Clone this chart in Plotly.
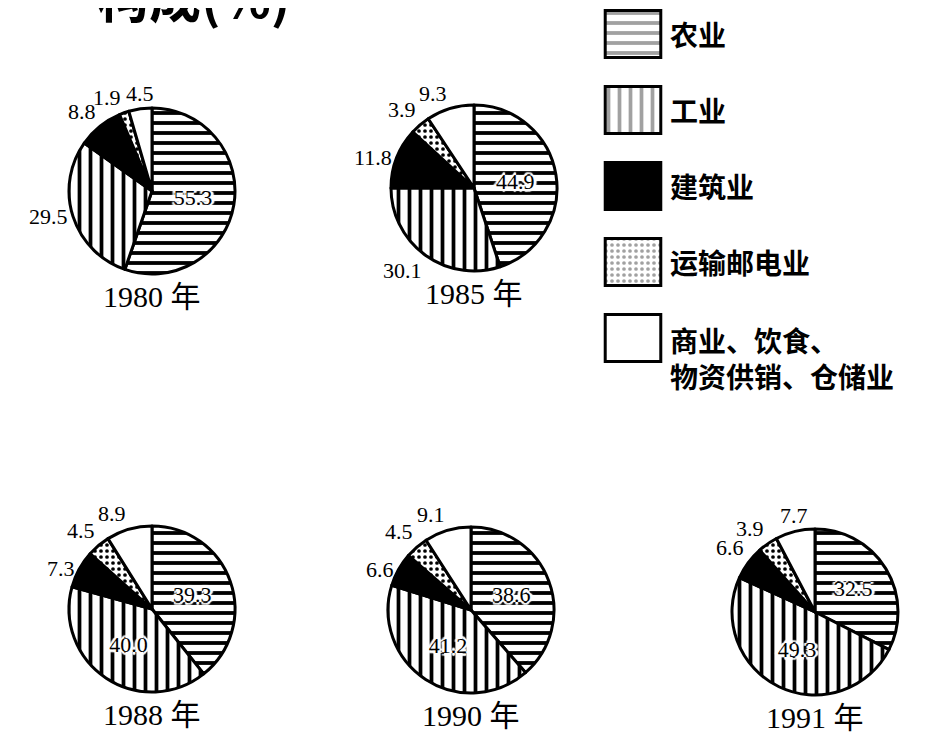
import math
import plotly.graph_objects as go

# sectors, in the order the slices run clockwise from 12 o'clock
sectors = ["农业", "工业", "建筑业", "运输邮电业", "商业、饮食、物资供销、仓储业"]
legend_text = ["农业", "工业", "建筑业", "运输邮电业", "商业、饮食、<br>物资供销、仓储业"]

years = ["1980", "1985", "1988", "1990", "1991"]
share_1980 = [55.3, 29.5, 8.8, 1.9, 4.5]
share_1985 = [44.9, 30.1, 11.8, 3.9, 9.3]
share_1988 = [39.3, 40.0, 7.3, 4.5, 8.9]
share_1990 = [38.6, 41.2, 6.6, 4.5, 9.1]
share_1991 = [32.5, 49.3, 6.6, 3.9, 7.7]
shares = [share_1980, share_1985, share_1988, share_1990, share_1991]

# which labels sit inside the slice (the rest go outside, next to the slice)
label_pos = [
    ["inside", "none", "none", "none", "none"],
    ["inside", "none", "none", "none", "none"],
    ["inside", "inside", "none", "none", "none"],
    ["inside", "inside", "none", "none", "none"],
    ["inside", "inside", "none", "none", "none"],
]

# page has an 8px body margin, so the figure itself is 8px smaller
OFF = 8
W, H = 931 - OFF, 739 - OFF
R = 83
centers = [(152, 191), (474, 188), (152, 609), (471, 610), (815, 612)]


def px(x):
    return (x - OFF) / W


def py(y):
    return 1 - (y - OFF) / H


num_font = "Liberation Serif, Noto Sans CJK SC"
cjk_font = "Noto Sans CJK SC"

fill = ["white", "white", "black", "white", "white"]
pattern = dict(
    shape=["-", "|", "", ".", ""],
    fgcolor="black",
    bgcolor=fill,
    size=[10, 11, 8, 6, 8],
    solidity=[0.38, 0.34, 0.3, 0.3, 0.3],
)
halo = ("white 2px 0 0, white -2px 0 0, white 0 2px 0, white 0 -2px 0, "
        "white 3px 0 1px, white -3px 0 1px, white 0 3px 1px, white 0 -3px 1px")

fig = go.Figure()

for year, vals, pos, (cx, cy) in zip(years, shares, label_pos, centers):
    fig.add_trace(go.Pie(
        labels=sectors,
        values=vals,
        sort=False,
        direction="clockwise",
        rotation=0,
        marker=dict(colors=fill, pattern=pattern, line=dict(color="black", width=3)),
        texttemplate="%{value:.1f}",
        textposition=pos,
        insidetextorientation="horizontal",
        insidetextfont=dict(family=num_font, size=22, color="black", shadow=halo),
        domain=dict(x=[px(cx - R), px(cx + R)], y=[py(cy + R), py(cy - R)]),
        showlegend=False,
        hoverinfo="label+value",
    ))
    # outside labels, placed at each small slice's middle angle
    total = sum(vals)
    cum = 0
    for v, p in zip(vals, pos):
        theta = 2 * math.pi * (cum + v / 2) / total
        cum += v
        if p == "inside":
            continue
        s, c = math.sin(theta), math.cos(theta)
        xa = "right" if s < -0.25 else ("left" if s > 0.25 else "center")
        ya = "bottom" if c > 0.5 else ("top" if c < -0.5 else "middle")
        fig.add_annotation(
            text=f"{v:.1f}", xref="paper", yref="paper",
            x=px(cx + (R + 3) * s), y=py(cy - (R + 1) * c),
            xanchor=xa, yanchor=ya, showarrow=False,
            font=dict(family=num_font, size=22, color="black"),
        )
    fig.add_annotation(
        text=year + " 年", xref="paper", yref="paper",
        x=px(cx), y=py(cy + R + 22), xanchor="center", yanchor="middle",
        showarrow=False, font=dict(family=num_font, size=30, color="black"),
    )

# legend swatches drawn as patterned bars
fig.add_trace(go.Bar(
    x=[1] * len(sectors), y=sectors, orientation="h", width=0.62,
    marker=dict(color=fill, pattern=pattern, line=dict(color="black", width=3)),
    hoverinfo="skip", showlegend=False,
))
for name, txt in zip(sectors, legend_text):
    two_line = "<br>" in txt
    fig.add_annotation(
        text=txt, xref="x", yref="y", x=1.04, y=name,
        xanchor="left", yanchor="top" if two_line else "middle",
        yshift=20 if two_line else 0, xshift=5, align="left",
        showarrow=False, font=dict(family=cjk_font, size=28, color="black", weight="bold"),
    )

fig.add_annotation(
    text="构成(%)", xref="paper", yref="paper", x=px(193), y=py(-4),
    xanchor="center", yanchor="middle", showarrow=False,
    font=dict(family=cjk_font, size=52, color="black", weight="bold"),
)

fig.update_layout(
    width=W, height=H,
    margin=dict(l=0, r=0, t=0, b=0),
    paper_bgcolor="white", plot_bgcolor="white",
    xaxis=dict(domain=[px(603), px(663)], range=[-0.04, 1.04], visible=False, fixedrange=True),
    yaxis=dict(domain=[py(372), 1], type="category", categoryarray=sectors,
               range=[4.447, -0.342], visible=False, fixedrange=True),
)

fig.write_html("out.html")
